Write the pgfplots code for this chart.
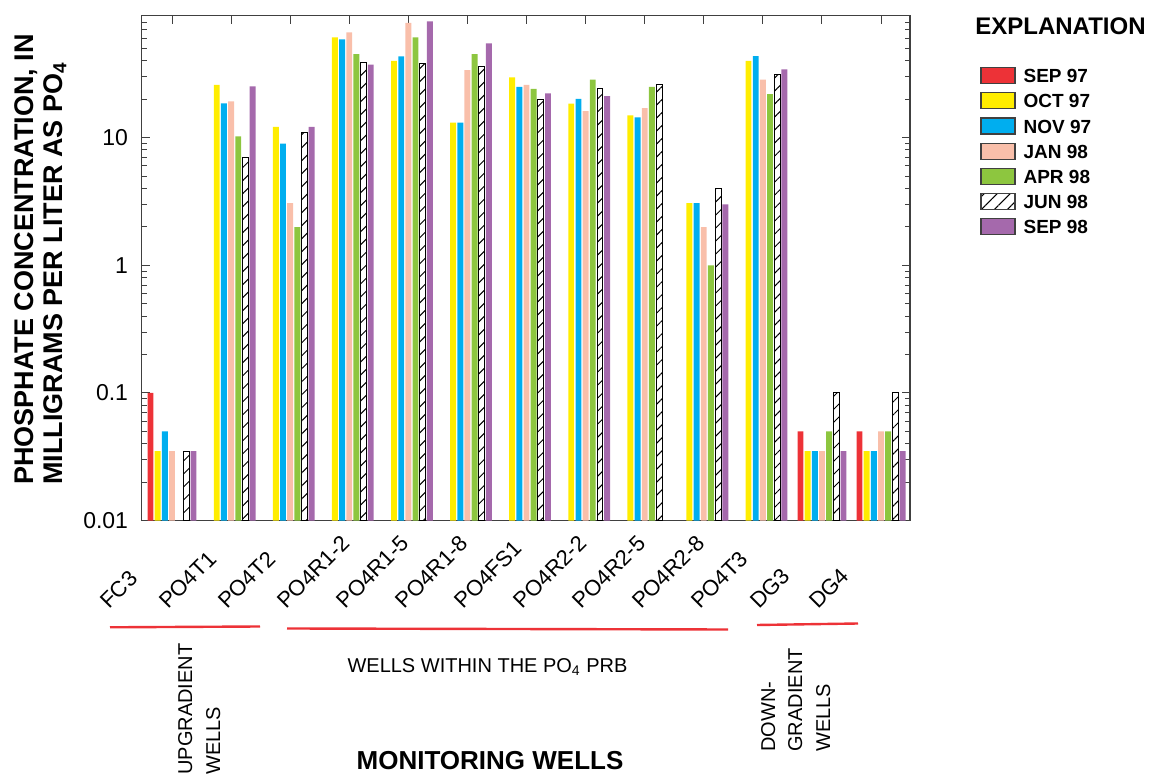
\documentclass[border=0pt]{standalone}
\usepackage{fontspec}
\setmainfont{Liberation Sans}
\usepackage{pgfplots}
\pgfplotsset{compat=1.18}
\usepackage{pgfplotstable}
\usetikzlibrary{patterns.meta}

\definecolor{cRed}{RGB}{237,50,55}
\definecolor{cYel}{RGB}{255,237,0}
\definecolor{cBlu}{RGB}{0,174,239}
\definecolor{cPnk}{RGB}{249,191,170}
\definecolor{cGrn}{RGB}{141,198,63}
\definecolor{cPur}{RGB}{165,105,172}

\pgfplotstableread{
x  sepA  octA  novA  janB  aprB  junB  sepB
0  0.1   0.035 0.05  0.035 nan   0.035 0.035
1  nan   25.8  18.5  19.2  10.2  7.0   25.2
2  nan   12.1  8.95  3.07  1.99  11.0  12.1
3  nan   61    58.8  66.7  45.1  38.8  37.2
4  nan   39.9  43.2  78.9  61    38.1  81.3
5  nan   13.1  13.1  33.8  45.1  36.1  54.7
6  nan   29.6  24.9  25.9  24.0  20.0  22.2
7  nan   18.4  20.1  16.1  28.4  24.0  21.1
8  nan   14.9  14.4  17.0  24.9  25.9  nan
9  nan   3.07  3.07  1.99  1.0   4.0   3.0
10 nan   39.9  43.5  28.4  21.9  31.0  34.2
11 0.05  0.035 0.035 0.035 0.05  0.1   0.035
12 0.05  0.035 0.035 0.05  0.05  0.1   0.035
}\data

\begin{document}
\begin{tikzpicture}
\begin{scope}[x=0.5pt,y=-0.5pt]
\path[use as bounding box] (0,0) rectangle (1153,774);
\end{scope}
\begin{axis}[
  at={(70.85pt,-260.35pt)}, anchor=south west,
  scale only axis, width=384.15pt, height=252.5pt,
  ymode=log, log origin=infty,
  ymin=0.01, ymax=90,
  xmin=-0.513, xmax=12.49,
  ybar, bar width=0.1,
  legend image code/.code={\draw[#1,draw=black!75,line width=0.6pt] (0pt,-4pt) rectangle (17pt,4pt);},
  xtick={0,...,12},
  xticklabels={FC3,PO4T1,PO4T2,PO4R1-2,PO4R1-5,PO4R1-8,PO4FS1,PO4R2-2,PO4R2-5,PO4R2-8,PO4T3,DG3,DG4},
  xticklabel style={font=\fontsize{11}{13}\selectfont, inner sep=0pt, xshift=-31.5pt, yshift=-44.65pt, rotate=45, anchor=base west},
  ytick={0.01,0.1,1,10},
  yticklabels={0.01,0.1,1,10},
  minor ytick={0.02,0.03,0.04,0.05,0.06,0.07,0.08,0.09,0.2,0.3,0.4,0.5,0.6,0.7,0.8,0.9,2,3,4,5,6,7,8,9,20,30,40,50,60,70,80},
  yticklabel style={font=\fontsize{11.5}{13}\selectfont, xshift=-3.3pt},
  /pgf/number format/assume math mode=true,
  tick align=inside,
  major tick length=4pt, minor tick length=2.5pt,
  every tick/.style={black!75, line width=0.5pt},
  axis line style={black!75, line width=0.6pt},
  legend style={at={(1.0911,0.899)}, anchor=north west, draw=none, fill=none,
    font=\bfseries\fontsize{9.5}{11}\selectfont, inner sep=0pt, row sep=4.0pt, column sep=4pt,
    nodes={inner sep=0pt, text height=7pt, text depth=0pt, anchor=west}},
  legend cell align=left,
]
\addplot[fill=cRed, draw=none, bar shift=-0.364] table[x=x,y=sepA]{\data};
\addplot[fill=cYel, draw=none, bar shift=-0.243] table[x=x,y=octA]{\data};
\addplot[fill=cBlu, draw=none, bar shift=-0.121] table[x=x,y=novA]{\data};
\addplot[fill=cPnk, draw=none, bar shift=0] table[x=x,y=janB]{\data};
\addplot[fill=cGrn, draw=none, bar shift=0.121] table[x=x,y=aprB]{\data};
\addplot[pattern={Lines[angle=45,distance=4.6pt,line width=0.5pt]}, draw=black, line width=0.5pt, bar shift=0.243] table[x=x,y=junB]{\data};
\addplot[fill=cPur, draw=none, bar shift=0.364] table[x=x,y=sepB]{\data};
\legend{SEP 97,OCT 97,NOV 97,JAN 98,APR 98,JUN 98,SEP 98}
\end{axis}
\begin{scope}[x=0.5pt,y=-0.5pt]
\node[rotate=90, anchor=base west, inner sep=0pt, font=\bfseries\fontsize{13.5}{15}\selectfont] at (33,485) {PHOSPHATE CONCENTRATION, IN};
\node[rotate=90, anchor=base west, inner sep=0pt, font=\bfseries\fontsize{13.5}{15}\selectfont] at (62,485) {MILLIGRAMS PER LITER AS PO\textsubscript{4}};
\node[anchor=base west, inner sep=0pt, font=\bfseries\fontsize{12}{14}\selectfont] at (975,34.3) {EXPLANATION};
\draw[cRed, line width=1.2pt] (110,627.3) -- (260,626.5);
\draw[cRed, line width=1.2pt] (287,628.5) -- (728,629.5);
\draw[cRed, line width=1.2pt] (757,625) -- (858,623.5);
\node[rotate=90, anchor=base west, inner sep=0pt, font=\fontsize{10}{12}\selectfont] at (192,775) {UPGRADIENT};
\node[rotate=90, anchor=base west, inner sep=0pt, font=\fontsize{10}{12}\selectfont] at (220,775) {WELLS};
\node[anchor=base, inner sep=0pt, font=\fontsize{10}{12}\selectfont] at (487.5,673) {WELLS WITHIN THE PO\textsubscript{4} PRB};
\node[rotate=90, anchor=base west, inner sep=0pt, font=\fontsize{10}{12}\selectfont] at (775,752) {DOWN-};
\node[rotate=90, anchor=base west, inner sep=0pt, font=\fontsize{10}{12}\selectfont] at (802,752) {GRADIENT};
\node[rotate=90, anchor=base west, inner sep=0pt, font=\fontsize{10}{12}\selectfont] at (830,752) {WELLS};
\node[anchor=base, inner sep=0pt, font=\bfseries\fontsize{13}{15}\selectfont] at (490,770) {MONITORING WELLS};
\end{scope}
\end{tikzpicture}
\end{document}
